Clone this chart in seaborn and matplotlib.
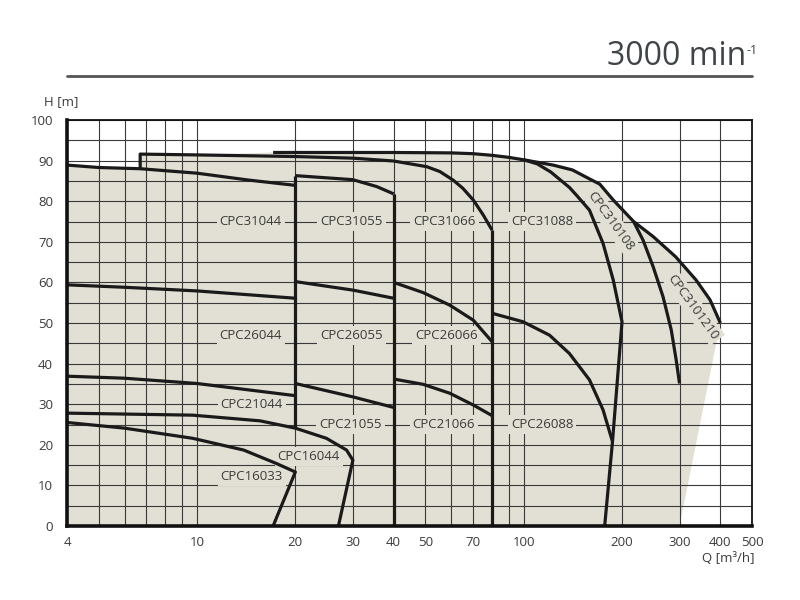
import matplotlib
matplotlib.use("Agg")
import matplotlib.pyplot as plt
from matplotlib.ticker import NullFormatter
from matplotlib.lines import Line2D
import seaborn as sns
import pandas as pd

# ---------------- data ----------------
q_16033 = [4, 6.0, 9.7, 13.9, 17.5, 20, 17.1]
h_16033 = [25.5, 24.1, 21.6, 18.7, 15.4, 13.3, 0]

q_16044 = [4, 9.7, 15.6, 20, 24.9, 28.7, 30, 27.1]
h_16044 = [27.8, 27.3, 25.9, 24.1, 21.6, 18.7, 16.2, 0]

q_21044 = [4, 6, 10, 20]
h_21044 = [36.9, 36.4, 35.1, 32.1]

q_21055 = [20, 30, 40]
h_21055 = [35.1, 31.8, 29.2]

q_21066 = [40, 49.2, 59.4, 70.1, 80]
h_21066 = [36.2, 34.9, 32.7, 29.8, 27.2]

q_26044 = [4, 6, 10, 20]
h_26044 = [59.4, 58.8, 57.9, 56.1]

q_26055 = [20, 30, 40]
h_26055 = [60.2, 58.1, 56.1]

q_26066 = [40, 49.2, 59.4, 70.1, 80]
h_26066 = [60.0, 57.5, 54.4, 50.7, 45.4]

q_26088 = [80, 99.6, 120, 138, 159, 175, 187]
h_26088 = [52.4, 50.3, 47.0, 42.5, 36.0, 28.6, 20.8]

q_31044 = [4, 5, 6.7, 10, 14.4, 20]
h_31044 = [88.9, 88.3, 88.0, 86.9, 85.2, 83.9]

q_31055 = [20, 30, 35.5, 40]
h_31055 = [86.3, 85.3, 83.6, 81.8]

q_31066 = [6.7, 6.7, 10, 20, 30, 40, 50.5, 55.4, 60.8, 65.1, 70.1, 75.2, 80]
h_31066 = [88.0, 91.6, 91.4, 91.0, 90.6, 89.9, 88.5, 87.3, 85.2, 83.2, 80.3, 76.6, 72.9]

q_31088 = [17.1, 40, 60, 70, 80, 90, 100, 110, 121, 138, 145, 159, 175, 188, 200, 187, 177]
h_31088 = [92.0, 92.0, 91.9, 91.7, 91.3, 90.8, 90.2, 89.2, 87.2, 83.4, 81.5, 77.8, 69.6, 60.6, 50.3, 20.7, 0]

q_310108 = [217, 232, 249, 267, 283, 293, 300]
h_310108 = [75.0, 70.4, 63.9, 56.5, 48.3, 40.9, 35.1]

q_3101210 = [100, 110, 123, 141, 159, 171, 188, 217, 249, 292, 337, 372, 400]
h_3101210 = [90.2, 89.6, 88.9, 87.7, 85.5, 84.2, 80.3, 75.0, 71.3, 66.3, 60.6, 55.7, 50.0]

# vertical frame lines between pump sizes
q_v20, h_v20 = [20, 20], [86.3, 24.1]
q_v40, h_v40 = [40, 40], [81.8, 0]
q_v80, h_v80 = [80, 80], [72.9, 0]

# curve labels
label_names = ["CPC31044", "CPC31055", "CPC31066", "CPC31088",
               "CPC26044", "CPC26055", "CPC26066",
               "CPC21044", "CPC21055", "CPC21066", "CPC26088",
               "CPC16044", "CPC16033", "CPC310108", "CPC3101210"]
label_q = [14.6, 29.7, 57.2, 114, 14.6, 29.7, 58, 14.7, 29.5, 57, 114, 22, 14.7, 185, 330]
label_h = [75, 75, 75, 75, 47, 47, 47, 30, 25, 25, 25, 17.1, 12.1, 75.1, 54]
label_rot = [0, 0, 0, 0, 0, 0, 0, 0, 0, 0, 0, 0, 0, -54, -54]

x_ticks = [4, 10, 20, 30, 40, 50, 70, 100, 200, 300, 400, 500]
x_minor = [5, 6, 7, 8, 9, 60, 80, 90]
y_ticks = list(range(0, 101, 10))
y_minor = list(range(5, 100, 10))

# ---------------- style ----------------
sns.set_theme(style="white")
plt.rcParams["font.family"] = ["Open Sans", "DejaVu Sans"]

FILL = "#e2e0d4"
INK = "#1a1a1a"
TXT = "#3a3a3a"

fig = plt.figure(figsize=(8, 6), dpi=100)
ax = fig.add_axes([67 / 800, 74 / 600, 685 / 800, 406 / 600])
ax.set_xscale("log")

# shaded operating envelope built from the curves
shade_q = [4] + q_31044[:3] + q_31066[1:3] + q_31088[:7] + q_3101210[1:] + [300, 4]
shade_h = [0] + h_31044[:3] + h_31066[1:3] + h_31088[:7] + h_3101210[1:] + [0, 0]
ax.fill(shade_q, shade_h, color=FILL, lw=0, zorder=1)

# curves
curves = {
    "16033": (q_16033, h_16033), "16044": (q_16044, h_16044),
    "21044": (q_21044, h_21044), "21055": (q_21055, h_21055), "21066": (q_21066, h_21066),
    "26044": (q_26044, h_26044), "26055": (q_26055, h_26055), "26066": (q_26066, h_26066),
    "26088": (q_26088, h_26088),
    "31044": (q_31044, h_31044), "31055": (q_31055, h_31055), "31066": (q_31066, h_31066),
    "31088": (q_31088, h_31088), "310108": (q_310108, h_310108), "3101210": (q_3101210, h_3101210),
    "v20": (q_v20, h_v20), "v40": (q_v40, h_v40), "v80": (q_v80, h_v80),
}
rows = []
for name, (qs, hs) in curves.items():
    for i, (q, h) in enumerate(zip(qs, hs)):
        rows.append({"curve": name, "order": i, "Q": q, "H": h})
df = pd.DataFrame(rows)

sns.lineplot(data=df, x="Q", y="H", units="curve", estimator=None, sort=False,
             color=INK, lw=2.3, ax=ax, zorder=5, legend=False,
             solid_joinstyle="round", solid_capstyle="butt")

# labels
for name, q, h, r in zip(label_names, label_q, label_h, label_rot):
    ax.text(q, h, name, ha="center", va="center", fontsize=9.5, color=TXT,
            rotation=r, rotation_mode="anchor", zorder=4,
            bbox=dict(boxstyle="square,pad=0.22", fc=FILL, ec="none"))

# axes
ax.set_xlim(4, 500)
ax.set_ylim(0, 100)
ax.set_xticks(x_ticks)
ax.set_xticklabels([str(t) for t in x_ticks])
ax.set_xticks(x_minor, minor=True)
ax.xaxis.set_minor_formatter(NullFormatter())
ax.set_yticks(y_ticks)
ax.set_yticklabels([str(t) for t in y_ticks])
ax.set_yticks(y_minor, minor=True)
ax.set_axisbelow(False)
ax.grid(True, which="both", color="#3a3a3a", lw=0.8, zorder=2.5)
ax.tick_params(which="both", length=0, labelsize=9.5, labelcolor=TXT)
ax.tick_params(axis="x", pad=7)
ax.tick_params(axis="y", pad=10)
ax.set_xlabel("")
ax.set_ylabel("")
for side, lw in (("left", 2.6), ("bottom", 2.6), ("top", 1.3), ("right", 1.3)):
    ax.spines[side].set_visible(True)
    ax.spines[side].set_color("#111111")
    ax.spines[side].set_linewidth(lw)
    ax.spines[side].set_zorder(6)

# axis titles
fig.text(61.5 / 800, 1 - 101.7 / 600, "H [m]", ha="center", va="center", fontsize=9.5, color=TXT)
fig.text(755 / 800, 1 - 558 / 600, "Q [m³/h]", ha="right", va="center", fontsize=9.5, color=TXT)

# heading
fig.text(746 / 800, 1 - 65 / 600, "3000 min", ha="right", va="baseline",
         fontsize=23, color="#3f4447")
fig.text(746.5 / 800, 1 - 54 / 600, "-1", ha="left", va="baseline",
         fontsize=9, color="#3f4447")
fig.add_artist(Line2D([67 / 800, 752 / 800], [1 - 76 / 600, 1 - 76 / 600],
                      color="#555555", lw=2, transform=fig.transFigure))

fig.savefig("out.png", dpi=100)
